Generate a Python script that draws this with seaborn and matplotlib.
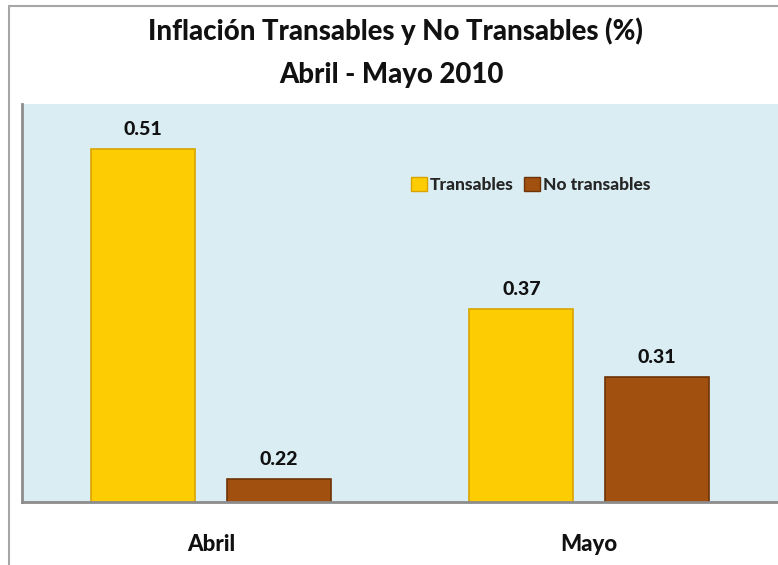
import matplotlib
matplotlib.use("Agg")
import matplotlib.pyplot as plt
import seaborn as sns
import pandas as pd
from matplotlib.lines import Line2D
from matplotlib.patches import Patch

months = ["Abril", "Mayo"]
series = ["Transables", "No transables"]
transables = [0.51, 0.37]
no_transables = [0.22, 0.31]

title_line1 = "Inflación Transables y No Transables (%)"
title_line2 = "Abril - Mayo 2010"

colors = {"Transables": "#FDCC03", "No transables": "#A2500F"}
edges = {"Transables": "#D9A400", "No transables": "#6E3306"}

df = pd.DataFrame({
    "Mes": months * 2,
    "Serie": [series[0]] * 2 + [series[1]] * 2,
    "Valor": transables + no_transables,
})

sns.set_theme(style="white")
plt.rcParams["font.family"] = ["Lato", "DejaVu Sans"]
WEIGHT = "black"

W, H = 778, 565
fig = plt.figure(figsize=(W / 100, H / 100), dpi=100)
ax = fig.add_axes([22 / W, 1 - 502 / H, 1 - 22 / W, (502 - 104) / H])

sns.barplot(data=df, x="Mes", y="Valor", hue="Serie", order=months,
            hue_order=series, palette=colors, width=0.716, gap=0.23,
            ax=ax, legend=False, saturation=1)

for cont, s in zip(ax.containers, series):
    for p in cont:
        p.set_edgecolor(edges[s])
        p.set_linewidth(1.2)
    ax.bar_label(cont, fmt="%.2f", padding=8, fontsize=14, fontweight=WEIGHT,
                 color="#111111")

ax.set_facecolor("#DAEDF3")
ax.set_xlim(-0.5, 1.5)
ax.set_ylim(0.2, 0.55)
ax.set_yticks([])
ax.set_xlabel("")
ax.set_ylabel("")
ax.tick_params(axis="x", length=0, pad=23, labelsize=16)
for lab in ax.get_xticklabels():
    lab.set_fontweight(WEIGHT)
    lab.set_color("#111111")
for side in ["top", "right"]:
    ax.spines[side].set_visible(False)
for side in ["left", "bottom"]:
    ax.spines[side].set_visible(True)
    ax.spines[side].set_color("#8C8C8C")
    ax.spines[side].set_linewidth(2)

handles = [Patch(facecolor=colors[s], edgecolor=edges[s], label=s) for s in series]
leg = ax.legend(handles=handles, loc="center", ncol=2, frameon=False,
                handlelength=0.9, handleheight=0.9, handletextpad=0.2,
                columnspacing=0.6, prop={"weight": WEIGHT, "size": 12.5})
leg.set_bbox_to_anchor(((531 - 22) / (W - 22), 1 - (185 - 104) / (502 - 104)), transform=ax.transAxes)

fig.text(395 / W, 1 - 31 / H, title_line1, ha="center", va="center",
         fontsize=19.8, fontweight=WEIGHT, color="#111111")
fig.text(391 / W, 1 - 75 / H, title_line2, ha="center", va="center",
         fontsize=19.8, fontweight=WEIGHT, color="#111111")

fig.add_artist(Line2D([9 / W, 9 / W], [0, 1 - 6 / H], transform=fig.transFigure,
                      color="#A6A6A6", lw=1.5))
fig.add_artist(Line2D([9 / W, 1], [1 - 6 / H, 1 - 6 / H], transform=fig.transFigure,
                      color="#A6A6A6", lw=1.5))

fig.savefig("out.png", dpi=100, facecolor="white")
